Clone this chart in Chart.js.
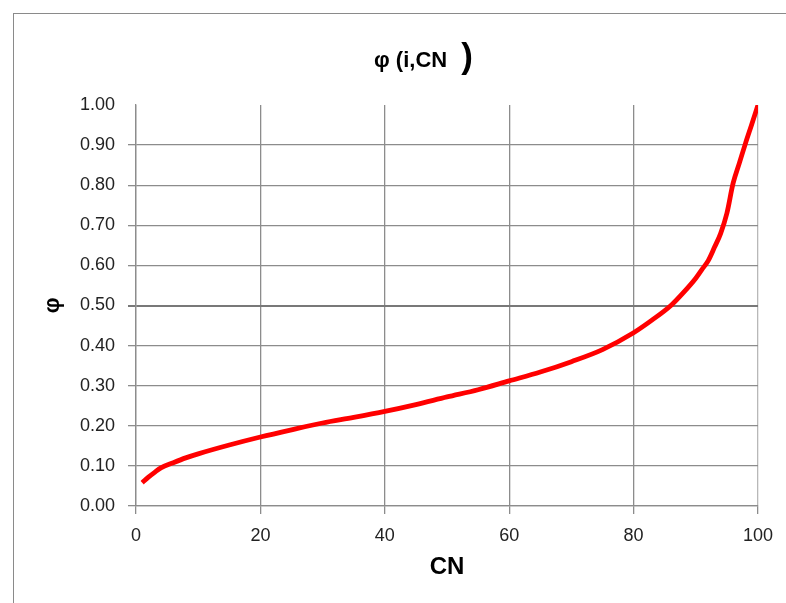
<!DOCTYPE html>
<html>
<head>
<meta charset="utf-8">
<script src="https://cdn.jsdelivr.net/npm/chart.js@4.4.1/dist/chart.umd.min.js"></script>
<style>
  html, body { margin: 0; padding: 0; background: #fff; overflow: hidden; }
  #frame { position: absolute; left: 13px; top: 13px; width: 800px; height: 620px; border: 1.5px solid #8a8a8a; }
  #wrap { position: absolute; left: 0; top: 0; width: 786px; height: 603px; }
</style>
</head>
<body>
<div id="frame"></div>
<div id="wrap"><canvas id="chart"></canvas></div>
<script>
// values
const cnValues = [1, 2, 3, 4, 6, 8, 10, 15, 20, 25, 30, 35, 40, 45, 50, 55, 60, 65, 70, 75, 80, 83, 86, 88, 90, 91, 92, 93, 94, 95, 96, 97, 98, 99, 100];
const phiValues = [0.058, 0.072, 0.084, 0.095, 0.108, 0.12, 0.13, 0.152, 0.172, 0.19, 0.207, 0.221, 0.236, 0.253, 0.272, 0.29, 0.312, 0.334, 0.36, 0.39, 0.432, 0.464, 0.5, 0.532, 0.568, 0.59, 0.612, 0.645, 0.68, 0.73, 0.805, 0.855, 0.905, 0.952, 1.0];
const xTicks = [0, 20, 40, 60, 80, 100];
const yTicks = [0, 0.1, 0.2, 0.3, 0.4, 0.5, 0.6, 0.7, 0.8, 0.9, 1.0];

const titleMain = "φ (i,CN";
const titleParen = ")";

const FONT = "'Liberation Sans', Arial, sans-serif";

const points = cnValues.map((x, i) => ({ x: x, y: phiValues[i] }));

// Excel-like title with the oversized closing paren
const titlePlugin = {
  id: "excelTitle",
  afterDraw(chart) {
    const ctx = chart.ctx;
    ctx.save();
    ctx.fillStyle = "#000";
    ctx.textBaseline = "alphabetic";
    ctx.textAlign = "left";
    ctx.font = "bold 22px " + FONT;
    const w = ctx.measureText(titleMain).width;
    const x0 = 374;
    ctx.fillText(titleMain, x0, 67);
    ctx.font = "bold 35px " + FONT;
    ctx.fillText(titleParen, x0 + w + 14, 68);
    ctx.restore();
  },
};

new Chart(document.getElementById("chart"), {
  type: "line",
  data: {
    datasets: [{
      data: points,
      borderColor: "#ff0000",
      borderWidth: 4.8,
      pointRadius: 0,
      fill: false,
      cubicInterpolationMode: "monotone",
    }],
  },
  options: {
    responsive: true,
    maintainAspectRatio: false,
    animation: false,
    layout: { padding: { left: 0, top: 105, right: 28, bottom: 0 } },
    plugins: { legend: { display: false }, title: { display: false }, tooltip: { enabled: false } },
    scales: {
      x: {
        type: "linear",
        min: 0,
        max: 100,
        afterBuildTicks: (scale) => { scale.ticks = xTicks.map((v) => ({ value: v })); },
        afterFit: (scale) => { scale.height = 97; },
        ticks: { color: "#222", font: { family: FONT, size: 18 }, padding: 11, maxRotation: 0 },
        grid: {
          color: (c) => (c.tick && c.tick.value === 100 ? "#b8b8b8" : "#8c8c8c"),
          tickColor: "#8c8c8c",
          lineWidth: 1.3,
          tickLength: 8,
        },
        border: { display: true, color: "#8c8c8c", width: 1.3 },
        title: { display: true, text: "CN", color: "#000", font: { family: FONT, size: 24, weight: "bold" }, padding: { top: 0, bottom: 21 } },
      },
      y: {
        type: "linear",
        min: 0,
        max: 1,
        afterBuildTicks: (scale) => { scale.ticks = yTicks.map((v) => ({ value: v })); },
        afterFit: (scale) => { scale.width = 136; },
        ticks: { color: "#222", font: { family: FONT, size: 18 }, padding: 13, callback: (v) => Number(v).toFixed(2) },
        grid: {
          color: (c) => {
            if (!c.tick) return "#8c8c8c";
            if (c.tick.value >= 0.999) return "rgba(0,0,0,0)";
            if (Math.abs(c.tick.value - 0.5) < 1e-6) return "#787878";
            return "#8c8c8c";
          },
          lineWidth: (c) => (c.tick && Math.abs(c.tick.value - 0.5) < 1e-6 ? 2 : 1.3),
          tickLength: 8,
        },
        border: { display: true, color: "#8c8c8c", width: 1.3 },
        title: { display: true, text: "φ", color: "#000", font: { family: FONT, size: 22, weight: "bold" }, padding: { top: 40, bottom: 0 } },
      },
    },
  },
  plugins: [titlePlugin],
});
</script>
</body>
</html>
